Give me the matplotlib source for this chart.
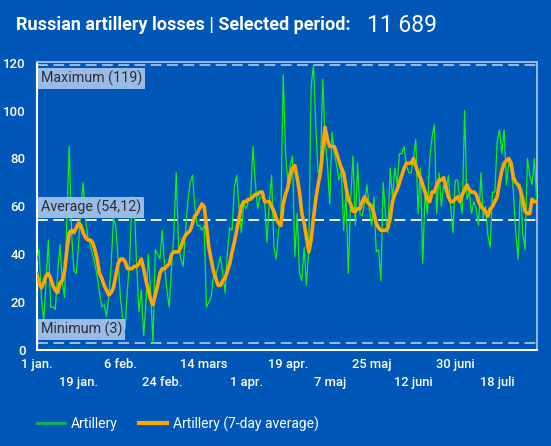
import matplotlib
matplotlib.use('Agg')
import matplotlib.pyplot as plt
from matplotlib.lines import Line2D
import pandas as pd

# ---------------- data ----------------
start_date = '2023-01-01'

artillery = [
    37, 42, 22, 12, 28, 46, 18, 18, 17, 32,
    44, 28, 22, 56, 85, 49, 33, 32, 44, 60,
    70, 55, 47, 44, 40, 36, 31, 24, 18, 19,
    14, 22, 35, 55, 52, 38, 22, 13, 9, 25,
    38, 64, 60, 35, 16, 25, 6, 20, 40, 24,
    3, 42, 40, 38, 50, 35, 25, 18, 35, 49,
    74, 43, 38, 35, 50, 62, 70, 73, 60, 52,
    52, 50, 52, 18, 20, 22, 31, 31, 35, 39,
    32, 24, 41, 51, 50, 68, 73, 60, 49, 61,
    59, 62, 64, 85, 70, 59, 64, 64, 62, 45,
    61, 73, 43, 38, 50, 55, 115, 82, 70, 77,
    81, 39, 57, 32, 29, 43, 27, 42, 110, 119,
    94, 74, 76, 113, 88, 78, 61, 91, 82, 77,
    71, 75, 50, 66, 32, 63, 81, 52, 78, 57,
    56, 62, 69, 59, 52, 64, 41, 42, 29, 70,
    56, 49, 76, 63, 76, 69, 82, 82, 85, 77,
    74, 74, 80, 88, 57, 76, 36, 66, 57, 80,
    89, 94, 57, 74, 60, 69, 66, 73, 60, 49,
    71, 71, 63, 57, 100, 63, 66, 57, 62, 59,
    52, 74, 55, 60, 48, 43, 66, 66, 87, 92,
    82, 92, 69, 78, 76, 66, 49, 38, 69, 49,
    42, 80, 73, 69, 80, 62,
]

artillery_7day = [
    32, 28, 26, 28, 31, 32, 30, 27, 25, 24,
    28, 29, 33, 42, 49, 50, 49, 51, 53, 52,
    49, 47, 46, 46, 45, 42, 38, 32, 30, 27,
    25, 23, 24, 26, 31, 36, 38, 38, 37, 34,
    34, 34, 35, 35, 36, 38, 34, 29, 25, 21,
    19, 23, 27, 32, 34, 34, 35, 36, 40, 41,
    41, 41, 43, 46, 48, 49, 50, 53, 56, 57,
    59, 61, 60, 52, 43, 38, 33, 30, 27, 27,
    29, 30, 33, 36, 41, 45, 50, 55, 60, 62,
    62, 63, 63, 64, 65, 65, 66, 66, 62, 62,
    62, 60, 58, 55, 53, 52, 61, 65, 68, 73,
    76, 77, 72, 66, 57, 53, 47, 41, 46, 55,
    63, 69, 74, 84, 93, 88, 85, 85, 85, 82,
    79, 76, 74, 68, 63, 61, 58, 58, 59, 59,
    62, 64, 62, 61, 60, 57, 53, 51, 50, 50,
    50, 51, 55, 62, 65, 67, 70, 73, 76, 78,
    78, 78, 80, 77, 74, 72, 69, 66, 63, 62,
    66, 66, 69, 71, 71, 72, 68, 64, 62, 62,
    63, 64, 62, 65, 67, 69, 67, 66, 66, 65,
    62, 60, 59, 58, 56, 59, 60, 62, 64, 70,
    75, 78, 79, 80, 78, 72, 70, 69, 67, 63,
    58, 57, 57, 63, 62, 62,
]

total_losses = '11 689'
maximum_value = 119
average_value = 54.12
minimum_value = 3

tick_dates_row1 = ['2023-01-01', '2023-02-06', '2023-03-14', '2023-04-19', '2023-05-25', '2023-06-30']
tick_labels_row1 = ['1 jan.', '6 feb.', '14 mars', '19 apr.', '25 maj', '30 juni']
tick_dates_row2 = ['2023-01-19', '2023-02-24', '2023-04-01', '2023-05-07', '2023-06-12', '2023-07-18']
tick_labels_row2 = ['19 jan.', '24 feb.', '1 apr.', '7 maj', '12 juni', '18 juli']
y_ticks = [0, 20, 40, 60, 80, 100, 120]

# ---------------- style ----------------
BG = '#0057B7'
GREEN = '#14f014'
ORANGE = '#FFA500'
LIGHT = '#a3c1e9'
plt.rcParams['font.family'] = ['Roboto', 'DejaVu Sans']

W, H = 551, 446
fig = plt.figure(figsize=(W / 100, H / 100), dpi=100, facecolor=BG)
ax = fig.add_axes([36.7 / W, 1 - 350.1 / H, 500 / W, (350.1 - 61.5) / H])
ax.set_facecolor(BG)

dates = pd.date_range(start_date, periods=len(artillery))

# reference lines
ax.axhline(maximum_value, color=LIGHT, lw=1.3, dashes=(6, 3), zorder=2)
ax.axhline(minimum_value, color=LIGHT, lw=1.3, dashes=(6, 3), zorder=2)
ax.axhline(average_value, color='white', lw=1.3, dashes=(6, 3), zorder=2)

ax.plot(dates, artillery, color=GREEN, lw=0.9, zorder=3)
ax.plot(dates, artillery_7day, color=ORANGE, lw=2.6, zorder=4,
        solid_joinstyle='round', solid_capstyle='round')

ax.set_xlim(dates[0], dates[-1])
ax.set_ylim(0, 120.5)

# labels on reference lines
box = dict(boxstyle='square,pad=0.2', fc=LIGHT, ec='none', alpha=0.95)
lab_kw = dict(xycoords=('axes fraction', 'data'), textcoords='offset pixels',
              ha='left', fontsize=10.3, color='#2a2f36', bbox=box, zorder=6)
avg_text = f'Average ({average_value:.2f})'.replace('.', ',')
ax.annotate(f'Maximum ({maximum_value})', xy=(0, maximum_value), xytext=(4, -5.5), va='top', **lab_kw)
ax.annotate(avg_text, xy=(0, average_value), xytext=(4, 5.5), va='bottom', **lab_kw)
ax.annotate(f'Minimum ({minimum_value})', xy=(0, minimum_value), xytext=(4, 5.5), va='bottom', **lab_kw)

# spines
for s in ['left', 'bottom']:
    ax.spines[s].set_color('white')
    ax.spines[s].set_linewidth(1.5)
for s in ['top', 'right']:
    ax.spines[s].set_color(LIGHT)
    ax.spines[s].set_linewidth(1.3)

# ticks
ax.set_yticks(y_ticks)
ax.tick_params(axis='y', length=0, pad=8, labelcolor='white', labelsize=9.5)
ax.set_xticks(pd.to_datetime(tick_dates_row1))
ax.set_xticklabels(tick_labels_row1)
ax.set_xticks(pd.to_datetime(tick_dates_row2), minor=True)
ax.set_xticklabels(tick_labels_row2, minor=True)
ax.tick_params(axis='x', which='major', length=0, pad=6, labelcolor='white', labelsize=9.3)
ax.tick_params(axis='x', which='minor', length=0, pad=19, labelcolor='white', labelsize=9.3)
for lbl in ax.get_yticklabels() + ax.get_xticklabels() + ax.get_xticklabels(minor=True):
    lbl.set_fontweight('medium')

# title
fig.text(16 / W, 1 - 29.5 / H, 'Russian artillery losses | Selected period:',
         fontsize=13, fontweight='bold', color='white', va='baseline', ha='left')
fig.text(367 / W, 1 - 32 / H, total_losses, fontsize=16.5, color='white',
         va='baseline', ha='left')

# legend
handles = [Line2D([], [], color='#16b55c', lw=2),
           Line2D([], [], color=ORANGE, lw=3)]
fig.legend(handles, ['Artillery', 'Artillery (7-day average)'],
           loc='center left', bbox_to_anchor=(37 / W, 1 - 424 / H), ncol=2,
           frameon=False, fontsize=10, labelcolor='white', handlelength=2.0,
           handletextpad=0.4, columnspacing=1.6, borderpad=0, borderaxespad=0)

fig.savefig('out.png', dpi=100, facecolor=BG)
